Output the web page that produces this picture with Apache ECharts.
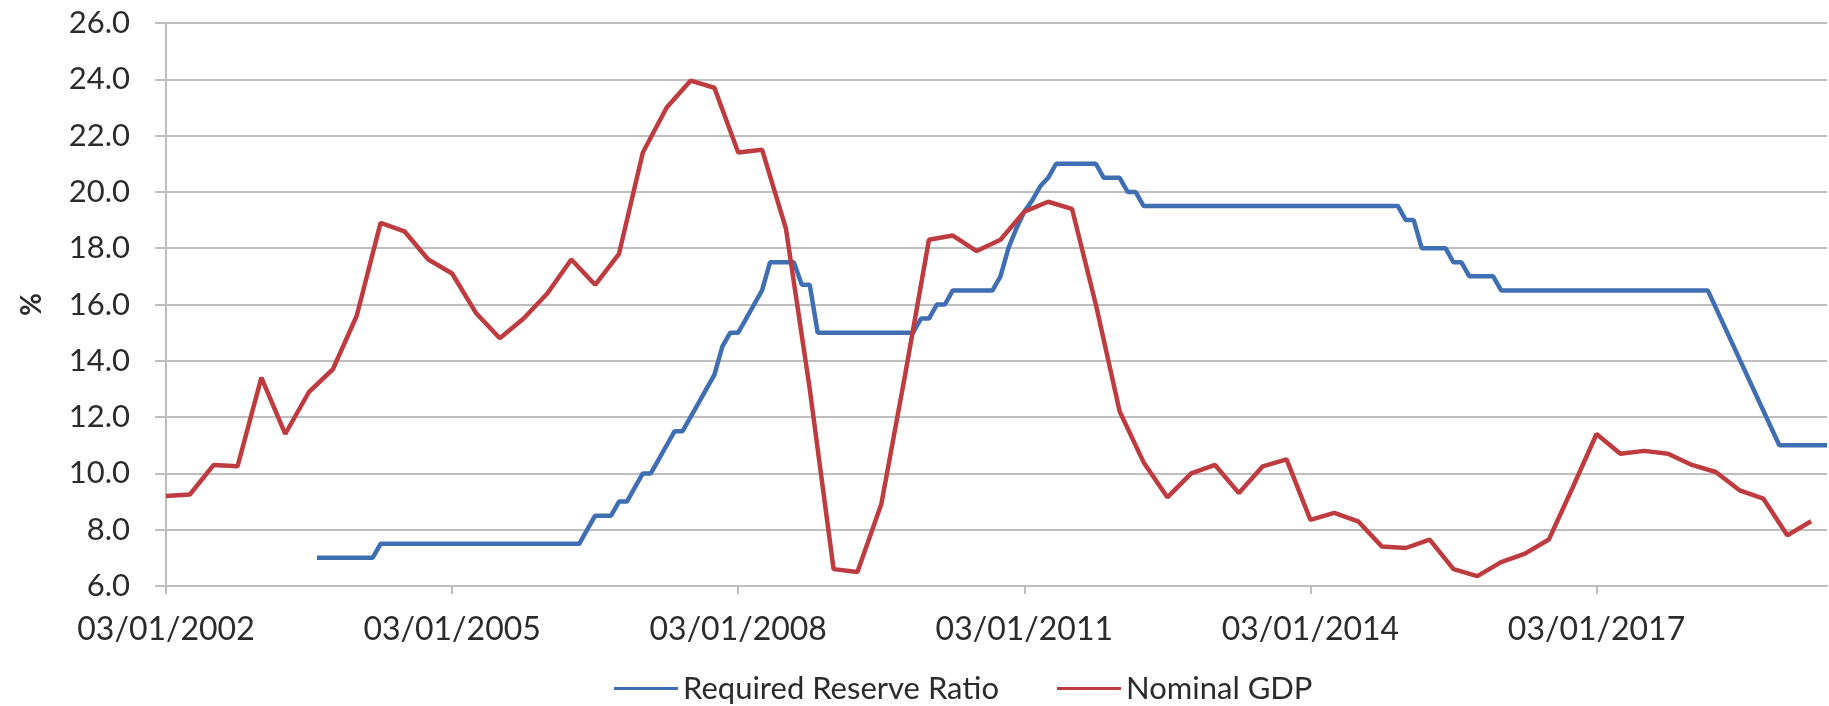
<!DOCTYPE html>
<html>
<head>
<meta charset="utf-8">
<script src="https://cdn.jsdelivr.net/npm/echarts@6/dist/echarts.min.js"></script>
<style>
  html, body { margin: 0; padding: 0; background: #fff; }
  #chart { width: 1829px; height: 706px; }
</style>
</head>
<body>
<div id="chart"></div>
<script>
// ---- Data (monthly category axis, Jan 2002 .. Jun 2019) ----
const startYear = 2002;
const monthCount = 210;
const seriesNames = ['Required Reserve Ratio', 'Nominal GDP'];

// Nominal GDP growth, quarterly (Q1 2002 .. Q2 2019), %
const nominalGDP = [
  9.2, 9.25, 10.3, 10.25,
  13.4, 11.4, 12.9, 13.7,
  15.6, 18.9, 18.6, 17.6,
  17.1, 15.7, 14.8, 15.5,
  16.4, 17.6, 16.7, 17.8,
  21.4, 23.0, 23.95, 23.7,
  21.4, 21.5, 18.7, 13.0,
  6.6, 6.5, 8.9, 13.5,
  18.3, 18.45, 17.9, 18.3,
  19.3, 19.65, 19.4, 16.0,
  12.2, 10.4, 9.15, 10.0,
  10.3, 9.3, 10.25, 10.5,
  8.35, 8.6, 8.3, 7.4,
  7.35, 7.65, 6.6, 6.35,
  6.85, 7.15, 7.65, 9.5,
  11.4, 10.7, 10.8, 10.7,
  10.3, 10.05, 9.4, 9.1,
  7.8, 8.3
];

// Required reserve ratio, monthly, %
const reserve2002 = [null, null, null, null, null, null, null, null, null, null, null, null];
const reserve2003 = [null, null, null, null, null, null, null, 7.0, 7.0, 7.0, 7.0, 7.0];
const reserve2004 = [7.0, 7.0, 7.0, 7.5, 7.5, 7.5, 7.5, 7.5, 7.5, 7.5, 7.5, 7.5];
const reserve2005 = [7.5, 7.5, 7.5, 7.5, 7.5, 7.5, 7.5, 7.5, 7.5, 7.5, 7.5, 7.5];
const reserve2006 = [7.5, 7.5, 7.5, 7.5, 7.5, 8.0, 8.5, 8.5, 8.5, 9.0, 9.0, 9.5];
const reserve2007 = [10.0, 10.0, 10.5, 11.0, 11.5, 11.5, 12.0, 12.5, 13.0, 13.5, 14.5, 15.0];
const reserve2008 = [15.0, 15.5, 16.0, 16.5, 17.5, 17.5, 17.5, 17.5, 16.7, 16.7, 15.0, 15.0];
const reserve2009 = [15.0, 15.0, 15.0, 15.0, 15.0, 15.0, 15.0, 15.0, 15.0, 15.0, 15.0, 15.5];
const reserve2010 = [15.5, 16.0, 16.0, 16.5, 16.5, 16.5, 16.5, 16.5, 16.5, 17.0, 18.0, 18.7];
const reserve2011 = [19.3, 19.7, 20.2, 20.5, 21.0, 21.0, 21.0, 21.0, 21.0, 21.0, 20.5, 20.5];
const reserve2012 = [20.5, 20.0, 20.0, 19.5, 19.5, 19.5, 19.5, 19.5, 19.5, 19.5, 19.5, 19.5];
const reserve2013 = [19.5, 19.5, 19.5, 19.5, 19.5, 19.5, 19.5, 19.5, 19.5, 19.5, 19.5, 19.5];
const reserve2014 = [19.5, 19.5, 19.5, 19.5, 19.5, 19.5, 19.5, 19.5, 19.5, 19.5, 19.5, 19.5];
const reserve2015 = [19.0, 19.0, 18.0, 18.0, 18.0, 18.0, 17.5, 17.5, 17.0, 17.0, 17.0, 17.0];
const reserve2016 = [16.5, 16.5, 16.5, 16.5, 16.5, 16.5, 16.5, 16.5, 16.5, 16.5, 16.5, 16.5];
const reserve2017 = [16.5, 16.5, 16.5, 16.5, 16.5, 16.5, 16.5, 16.5, 16.5, 16.5, 16.5, 16.5];
const reserve2018 = [16.5, 16.5, 16.5, null, null, null, null, null, null, null, null, 11.0];
const reserve2019 = [11.0, 11.0, 11.0, 11.0, 11.0, 11.0];

const yTicks = { min: 6, max: 26, interval: 2 };

// ---- Build library inputs ----
const categories = [];
for (let i = 0; i < monthCount; i++) {
  const y = startYear + Math.floor(i / 12);
  const m = (i % 12) + 1;
  categories.push('03/' + (m < 10 ? '0' + m : m) + '/' + y);
}
const reserveSeries = [].concat(
  reserve2002, reserve2003, reserve2004, reserve2005, reserve2006, reserve2007,
  reserve2008, reserve2009, reserve2010, reserve2011, reserve2012, reserve2013,
  reserve2014, reserve2015, reserve2016, reserve2017, reserve2018, reserve2019
);
const gdpSeries = new Array(monthCount).fill(null);
nominalGDP.forEach((v, q) => { gdpSeries[q * 3] = v; });

const FONT = 'Lato, "Open Sans", sans-serif';
const TEXT = '#2b2b2b';
const GRIDC = '#BEBEBE';

const chart = echarts.init(document.getElementById('chart'), null, { renderer: 'canvas' });
chart.setOption({
  animation: false,
  backgroundColor: '#ffffff',
  grid: { left: 166, right: 2, top: 23, bottom: 120, containLabel: false },
  legend: {
    data: seriesNames,
    left: 609,
    top: 668,
    itemWidth: 64,
    itemHeight: 14,
    itemGap: 58,
    icon: 'path://M0,6 L64,6 L64,9 L0,9 Z',
    textStyle: { fontFamily: FONT, fontSize: 31, color: TEXT }
  },
  xAxis: {
    type: 'category',
    data: categories,
    boundaryGap: false,
    axisLine: { show: true, lineStyle: { color: GRIDC, width: 2 } },
    axisTick: { show: true, interval: 35, length: 8, lineStyle: { color: GRIDC, width: 2 } },
    axisLabel: {
      interval: 35,
      margin: 28,
      fontFamily: FONT,
      fontSize: 32,
      color: TEXT
    },
    splitLine: { show: false }
  },
  yAxis: {
    type: 'value',
    min: yTicks.min,
    max: yTicks.max,
    interval: yTicks.interval,
    name: '%',
    nameLocation: 'middle',
    nameGap: 120,
    nameTextStyle: { fontFamily: FONT, fontSize: 28, fontWeight: 'bold', color: TEXT },
    axisLine: { show: true, lineStyle: { color: GRIDC, width: 2 } },
    axisTick: { show: true, length: 11, lineStyle: { color: GRIDC, width: 2 } },
    axisLabel: {
      margin: 36,
      fontFamily: FONT,
      fontSize: 31,
      color: TEXT,
      formatter: v => v.toFixed(1)
    },
    splitLine: { show: true, lineStyle: { color: GRIDC, width: 2 } }
  },
  series: [
    {
      name: seriesNames[0],
      type: 'line',
      data: reserveSeries,
      symbol: 'none',
      connectNulls: true,
      lineStyle: { color: '#3F6EB3', width: 4.5 },
      itemStyle: { color: '#3F6EB3' },
      z: 2
    },
    {
      name: seriesNames[1],
      type: 'line',
      data: gdpSeries,
      symbol: 'none',
      connectNulls: true,
      lineStyle: { color: '#BE3B40', width: 4.5 },
      itemStyle: { color: '#BE3B40' },
      z: 3
    }
  ]
});
</script>
</body>
</html>
